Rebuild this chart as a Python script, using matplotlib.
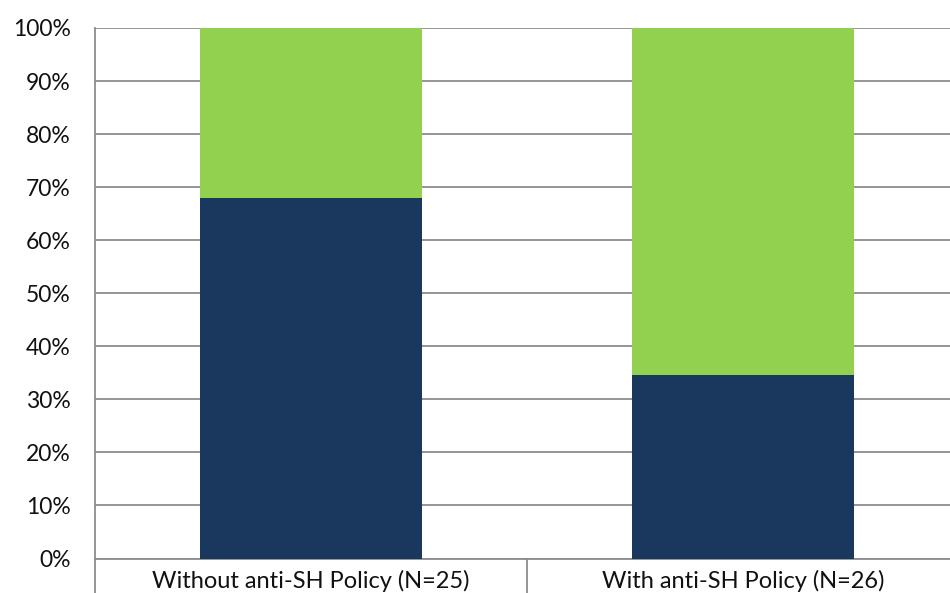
import numpy as np
import matplotlib
matplotlib.use("Agg")
import matplotlib.pyplot as plt
from matplotlib.ticker import FixedLocator

categories = ["Without anti-SH Policy (N=25)", "With anti-SH Policy (N=26)"]
bottom_share = [68.0, 34.6]
top_share = [32.0, 65.4]
y_ticks = [0, 10, 20, 30, 40, 50, 60, 70, 80, 90, 100]

plt.rcParams['font.family'] = ['Lato', 'DejaVu Sans']

fig = plt.figure(figsize=(9.5, 5.93), dpi=100)
ax = fig.add_axes([95 / 950, 34.5 / 593, 864 / 950, 530.5 / 593])

x = np.arange(len(categories))
ax.bar(x, bottom_share, width=0.512, color='#1a375e', zorder=3)
ax.bar(x, top_share, width=0.512, bottom=bottom_share, color='#92d050', zorder=3)

ax.set_xlim(-0.5, 1.5)
ax.set_ylim(0, 100)
ax.set_yticks(y_ticks)
ax.set_yticklabels([f"{v}%" for v in y_ticks])
ax.grid(axis='y', color='#8c8c8c', linewidth=1.3, zorder=1)

ax.set_xticks(x)
ax.set_xticklabels(categories)
ax.xaxis.set_minor_locator(FixedLocator([-0.5, 0.5, 1.5]))
ax.tick_params(axis='x', which='major', length=0, pad=8, labelsize=17, colors='#111111')
ax.tick_params(axis='x', which='minor', length=30, width=1.3, color='#8c8c8c')
ax.tick_params(axis='y', length=0, pad=17.5, labelsize=16.5, colors='#111111')

for side in ['top', 'right']:
    ax.spines[side].set_visible(False)
for side in ['left', 'bottom']:
    ax.spines[side].set_color('#8c8c8c')
    ax.spines[side].set_linewidth(1.3)

fig.savefig("out.png", dpi=100)
